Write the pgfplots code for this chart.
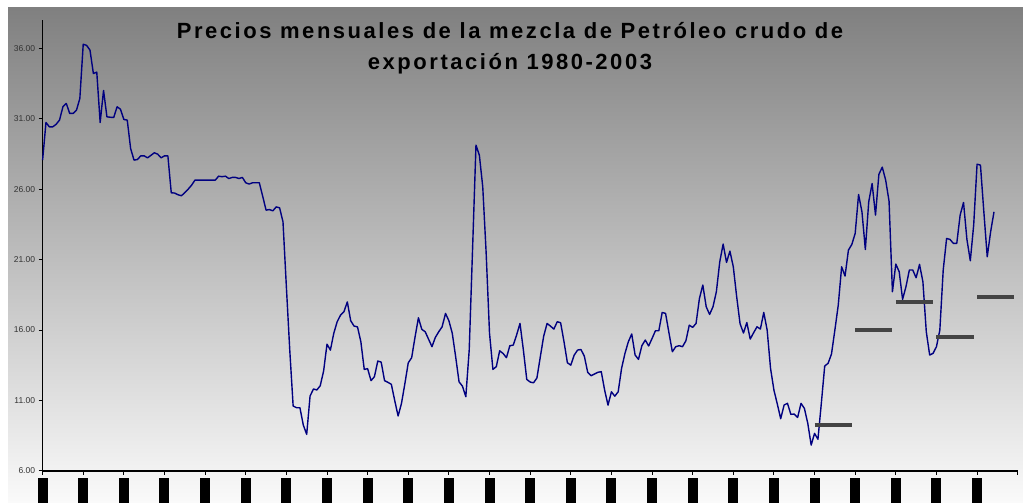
\documentclass[border=0pt]{standalone}
\usepackage{fontspec}
\setmainfont{Liberation Sans}
\newfontfamily\titlefont[LetterSpace=11.5]{Liberation Sans}
\usepackage{pgfplots}
\pgfplotsset{compat=1.18}
\usepackage{pgfplotstable}
\definecolor{navyline}{RGB}{0,0,128}
\definecolor{budget}{RGB}{68,68,68}
\definecolor{bgtop}{RGB}{128,128,128}
\definecolor{bgbot}{RGB}{250,250,250}
\newcommand\B{\rule{10pt}{25pt}}

\pgfplotstableread{
m v
0 28.06
1 30.73
2 30.42
3 30.42
4 30.6
5 30.9
6 31.84
7 32.08
8 31.37
9 31.37
10 31.6
11 32.43
12 36.28
13 36.2
14 35.86
15 34.2
16 34.3
17 30.73
18 33.0
19 31.13
20 31.1
21 31.08
22 31.84
23 31.67
24 30.94
25 30.9
26 28.88
27 28.06
28 28.1
29 28.36
30 28.36
31 28.22
32 28.4
33 28.58
34 28.48
35 28.22
36 28.36
37 28.36
38 25.74
39 25.72
40 25.6
41 25.53
42 25.75
43 26.0
44 26.28
45 26.64
46 26.64
47 26.64
48 26.64
49 26.64
50 26.64
51 26.64
52 26.92
53 26.88
54 26.92
55 26.75
56 26.83
57 26.83
58 26.75
59 26.83
60 26.45
61 26.36
62 26.45
63 26.45
64 26.45
65 25.5
66 24.51
67 24.55
68 24.46
69 24.74
70 24.67
71 23.68
72 19.07
73 14.58
74 10.61
75 10.49
76 10.49
77 9.26
78 8.6
79 11.32
80 11.82
81 11.75
82 12.05
83 13.1
84 15.0
85 14.58
86 15.77
87 16.59
88 17.06
89 17.3
90 18.0
91 16.66
92 16.28
93 16.23
94 15.17
95 13.21
96 13.26
97 12.41
98 12.69
99 13.8
100 13.73
101 12.41
102 12.29
103 12.15
104 11.0
105 9.9
106 10.8
107 12.2
108 13.68
109 14.04
110 15.5
111 16.87
112 16.05
113 15.88
114 15.35
115 14.82
116 15.48
117 15.88
118 16.23
119 17.18
120 16.66
121 15.77
122 14.1
123 12.33
124 12.02
125 11.27
126 14.58
127 21.8
128 29.12
129 28.41
130 26.16
131 21.5
132 15.77
133 13.21
134 13.4
135 14.53
136 14.34
137 14.04
138 14.89
139 14.93
140 15.65
141 16.47
142 14.58
143 12.5
144 12.31
145 12.26
146 12.6
147 14.1
148 15.57
149 16.47
150 16.28
151 16.07
152 16.59
153 16.52
154 15.17
155 13.68
156 13.51
157 14.22
158 14.58
159 14.62
160 14.15
161 13.0
162 12.76
163 12.88
164 13.0
165 13.05
166 11.74
167 10.67
168 11.62
169 11.31
170 11.62
171 13.28
172 14.34
173 15.17
174 15.72
175 14.23
176 13.92
177 14.89
178 15.29
179 14.87
180 15.4
181 15.95
182 15.95
183 17.25
184 17.18
185 15.8
186 14.46
187 14.82
188 14.89
189 14.82
190 15.24
191 16.35
192 16.19
193 16.47
194 18.25
195 19.19
196 17.65
197 17.11
198 17.65
199 18.72
200 20.84
201 22.1
202 20.8
203 21.6
204 20.49
205 18.36
206 16.45
207 15.79
208 16.53
209 15.36
210 15.81
211 16.23
212 16.07
213 17.25
214 16.0
215 13.28
216 11.74
217 10.75
218 9.71
219 10.68
220 10.8
221 10.02
222 10.04
223 9.8
224 10.8
225 10.44
226 9.38
227 7.84
228 8.67
229 8.25
230 10.8
231 13.45
232 13.64
233 14.3
234 16.0
235 17.77
236 20.49
237 19.83
238 21.67
239 22.07
240 22.86
241 25.62
242 24.39
243 21.72
244 25.1
245 26.4
246 24.16
247 27.05
248 27.56
249 26.64
250 25.15
251 18.72
252 20.68
253 20.14
254 18.18
255 19.08
256 20.26
257 20.26
258 19.71
259 20.66
260 19.43
261 15.88
262 14.23
263 14.35
264 14.82
265 16.0
266 20.26
267 22.5
268 22.43
269 22.15
270 22.15
271 24.16
272 25.05
273 22.43
274 20.92
275 23.45
276 27.77
277 27.7
278 24.39
279 21.2
280 22.97
281 24.39
}\precios

\begin{document}
\begin{tikzpicture}[x=1pt,y=1pt]
\useasboundingbox (0,0) rectangle (1023,503);
\fill[white] (0,0) rectangle (1023,503);
\shade[top color=bgtop, bottom color=bgbot] (8,0) rectangle (1023,495);
\begin{axis}[
  at={(42.6pt,32pt)}, anchor=south west,
  scale only axis, width=975.1pt, height=451pt,
  xmin=0, xmax=288, ymin=6, ymax=38,
  axis lines*=left,
  axis line style={black, line width=1.2pt},
  xtick={0,12,...,288},
  xticklabels={\B,\B,\B,\B,\B,\B,\B,\B,\B,\B,\B,\B,\B,\B,\B,\B,\B,\B,\B,\B,\B,\B,\B,\B,{}},
  xticklabel style={anchor=north, inner sep=0pt, yshift=-3pt},
  ytick={6,11,...,36},
  yticklabel style={font=\fontsize{8.5}{10}\selectfont, text=black!80,
    /pgf/number format/.cd, fixed, fixed zerofill, precision=2, assume math mode=true},
  tick align=outside,
  major tick length=4pt,
  tick style={black, line width=1pt},
  clip=false,
]
\addplot[navyline, line width=1.4pt, line join=round] table[x=m, y=v] {\precios};
\addplot[budget, line width=3.5pt] coordinates {(228,9.25) (239,9.25)};
\addplot[budget, line width=3.5pt] coordinates {(240,16.00) (251,16.00)};
\addplot[budget, line width=3.5pt] coordinates {(252,18.00) (263,18.00)};
\addplot[budget, line width=3.5pt] coordinates {(264,15.50) (275,15.50)};
\addplot[budget, line width=3.5pt] coordinates {(276,18.35) (287,18.35)};
\end{axis}
\node[anchor=base, font=\titlefont\bfseries\fontsize{22}{26}\selectfont] at (510,464.7) {Precios mensuales de la mezcla de Petróleo crudo de};
\node[anchor=base, font=\titlefont\bfseries\fontsize{22}{26}\selectfont] at (510,433.5) {exportación 1980-2003};
\end{tikzpicture}
\end{document}
